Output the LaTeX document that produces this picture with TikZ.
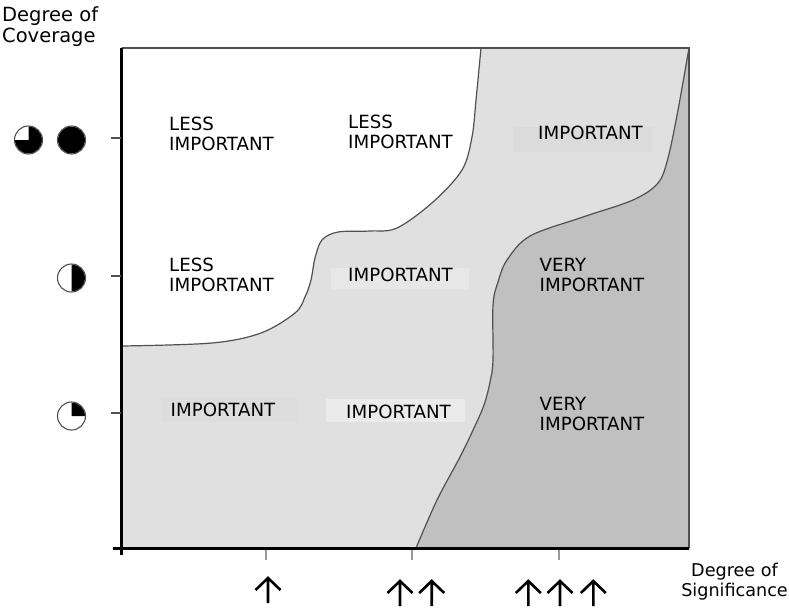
\documentclass[tikz,border=0pt]{standalone}
\usepackage{fontspec}
\setmainfont{DejaVu Sans}
\definecolor{zonelight}{HTML}{E0E0E0}
\definecolor{zonedark}{HTML}{C0C0C0}
\definecolor{edge}{HTML}{505050}
\tikzset{
    zone/.style={font=\fontsize{18.2}{20}\selectfont,align=left,inner sep=0pt},
    axistitle/.style={inner sep=0pt},
    pics/harvey/.style={code={
        \fill (0,0) -- (270:13.5) arc[start angle=270,delta angle=#1,radius=13.5] -- cycle;
        \draw[edge,line width=1.1] (0,0) circle[radius=14];
    }},
    pics/upmark/.style={code={
        \draw[line width=2.6,line join=miter] (0,26) -- (0,1) (-12.5,13) -- (0,1) -- (12.5,13);
    }}
}
\begin{document}
\begin{tikzpicture}[x=1pt,y=-1pt]
    \useasboundingbox (0,0) rectangle (789,608);
    % vùng
    \fill[zonelight] (122,48) rectangle (689,548);
    \filldraw[fill=white,draw=edge,line width=1.2] (122,48) -- (122,346) -- plot[smooth,tension=0.55] coordinates {(122,346) (212,343) (261,333) (295,313) (305,297) (311,280) (315,258) (322,240) (338,232) (370,231) (397,228) (433,202) (462,170) (472,137) (476,100) (481,48)} -- cycle;
    \filldraw[fill=zonedark,draw=edge,line width=1.2] (689,548) -- (416,548) -- plot[smooth,tension=0.55] coordinates {(416,548) (437,500) (460,457) (474,428) (484,405) (490,382) (493,360) (493,305) (498,282) (507,260) (530,236) (583,217) (633,200) (658,183) (668,158) (678,110) (689,48)} -- cycle;
    \foreach \xa/\ya/\xb/\yb/\f in {513/127/653/152/gray!28,331/268/469/289/gray!19,161/398/298/422/gray!27,326/399/465/422/gray!16}
        \fill[\f] (\xa,\ya) rectangle (\xb,\yb);
    % khung, trục
    \draw[edge,line width=1.2] (122,48) -- (689,48) -- (689,548);
    \draw[line width=3] (121,48) -- (121,555) (113,548) -- (689,548);
    \foreach \y in {138,276,413} \draw[edge,line width=1.2] (111,\y) -- (121,\y);
    \foreach \x in {266,412,559} \draw[gray!80,line width=1.2] (\x,550) -- (\x,560);
    \foreach \x/\y/\a in {28.5/140/270,71.5/140/360,71.5/278/180,71.5/416/90}
        \pic at (\x,\y) {harvey=\a};
    % nhãn
    \foreach \n/\x/\y/\t in {
        lessA/221.5/133.5/LESS\\IMPORTANT,
        lessB/400.5/131.5/LESS\\IMPORTANT,
        impA/590.5/132.5/IMPORTANT,
        lessC/221.5/274.5/LESS\\IMPORTANT,
        impB/400.5/274.5/IMPORTANT,
        veryA/592/274.5/VERY\\IMPORTANT,
        impC/223/409.5/IMPORTANT,
        impD/398.5/411.5/IMPORTANT,
        veryB/592/413.5/VERY\\IMPORTANT}
        \node[zone] (\n) at (\x,\y) {\t};
    \node[axistitle,font=\fontsize{19.5}{21}\selectfont,align=left,anchor=north west] (cov) at (2,6) {Degree of\\Coverage};
    \node[axistitle,font=\fontsize{17.6}{20}\selectfont,align=center,anchor=north] (sig) at (734.5,563) {Degree of\\Significance};
    \foreach \x/\y in {268/577,400/580,431.7/580,528.3/580,560/580,593.3/580}
        \pic at (\x,\y) {upmark};
\end{tikzpicture}
\end{document}
